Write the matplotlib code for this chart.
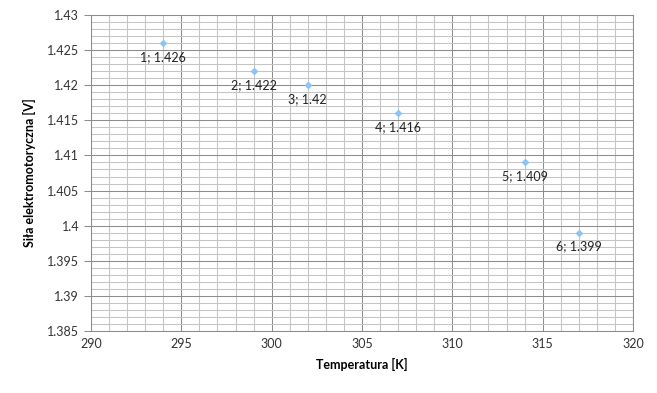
import numpy as np
import matplotlib.pyplot as plt
from matplotlib.ticker import MultipleLocator

plt.rcParams['font.family'] = ['Lato', 'DejaVu Sans']

# measured data
temperature = [294, 299, 302, 307, 314, 317]
sem = [1.426, 1.422, 1.42, 1.416, 1.409, 1.399]
labels = ['1; 1.426', '2; 1.422', '3; 1.42', '4; 1.416', '5; 1.409', '6; 1.399']

fig = plt.figure(figsize=(6.57, 3.93), dpi=100)
ax = fig.add_axes([91 / 657, 1 - 331 / 393, 542 / 657, 316 / 393])

ax.scatter(temperature, sem, marker='D', s=16, color='#8EC4F5', zorder=3, linewidths=0)
for x, y, lab in zip(temperature, sem, labels):
    ax.annotate(lab, (x, y), xytext=(0, -10), textcoords='offset points',
                ha='center', va='center', fontsize=9, color='#222222')

ax.set_xlim(290, 320)
ax.set_ylim(1.385, 1.43)
ax.xaxis.set_major_locator(MultipleLocator(5))
ax.xaxis.set_minor_locator(MultipleLocator(1))
ax.yaxis.set_major_locator(MultipleLocator(0.005))
ax.yaxis.set_minor_locator(MultipleLocator(0.001))
ax.set_yticklabels([('%.3f' % v).rstrip('0').rstrip('.') for v in ax.get_yticks()])

ax.grid(which='major', color='#8c8c8c', linewidth=0.75)
ax.grid(which='minor', color='#c4c4c4', linewidth=0.75)
ax.set_axisbelow(True)

for s in ax.spines.values():
    s.set_color('#8c8c8c')
    s.set_linewidth(0.75)
ax.tick_params(which='major', axis='y', length=5, width=0.75, color='#8c8c8c', labelsize=9, labelcolor='#333333')
ax.tick_params(which='major', axis='x', length=0, labelsize=9, labelcolor='#333333', pad=5)
ax.tick_params(which='minor', length=0)

ax.set_xlabel('Temperatura [K]', fontsize=9, fontweight='bold', labelpad=6)
ax.set_ylabel('Siła elektromotoryczna [V]', fontsize=9, fontweight='bold', labelpad=8)

fig.savefig('out.png', dpi=100)
